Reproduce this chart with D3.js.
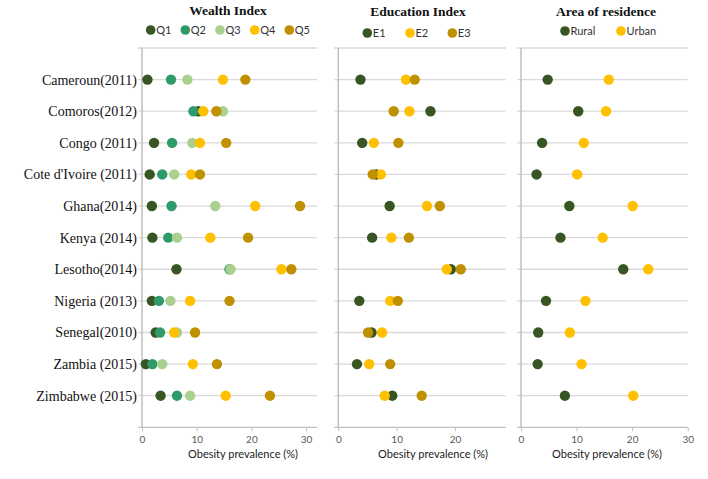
<!DOCTYPE html>
<html><head><meta charset="utf-8">
<script src="https://cdn.jsdelivr.net/npm/d3@7"></script>
<style>
html,body{margin:0;padding:0;background:#fff;}
svg{display:block;}
</style></head>
<body>
<svg id="chart" width="708" height="479"></svg>
<script>
// ---------- DATA ----------
const countries = ["Cameroun(2011)","Comoros(2012)","Congo (2011)","Cote d'Ivoire (2011)","Ghana(2014)","Kenya (2014)","Lesotho(2014)","Nigeria (2013)","Senegal(2010)","Zambia (2015)","Zimbabwe (2015)"];

const wealthKeys = ["Q1","Q2","Q3","Q4","Q5"];
const wealthQ1 = [1.0,10.3,2.2,1.4,1.8,1.9,6.3,1.8,2.5,0.7,3.4];
const wealthQ2 = [5.3,9.4,5.5,3.7,5.4,4.8,16.0,3.1,3.3,1.9,6.4];
const wealthQ3 = [8.3,14.8,9.2,5.9,13.4,6.4,16.2,5.2,6.4,3.7,8.8];
const wealthQ4 = [14.8,11.2,10.6,9.0,20.7,12.5,25.5,8.8,5.9,9.3,15.3];
const wealthQ5 = [18.9,13.6,15.4,10.6,28.9,19.4,27.3,16.0,9.7,13.7,23.4];

const eduKeys = ["E1","E2","E3"];
const eduE1 = [3.8,15.8,4.1,6.5,8.8,5.8,19.3,3.6,5.7,3.2,9.25];
const eduE2 = [11.6,12.2,6.1,7.3,15.2,9.1,18.6,8.9,7.5,5.3,7.95];
const eduE3 = [13.1,9.5,10.3,5.9,17.4,12.1,21.0,10.2,5.1,8.9,14.3];

const areaKeys = ["Rural","Urban"];
const areaRural = [4.8,10.3,3.8,2.8,8.7,7.1,18.4,4.5,3.1,3.0,7.9];
const areaUrban = [15.8,15.3,11.3,10.1,20.1,14.7,22.9,11.6,8.8,10.9,20.2];

const xTicks1 = [0,10,20,30];
const xTicks2 = [0,10,20];
const xTicks3 = [0,10,20,30];

const panelTitles = ["Wealth Index","Education Index","Area of residence"];
const axisTitle = "Obesity prevalence (%)";

// ---------- STYLE / LAYOUT ----------
const colors = {Q1:"#375623",Q2:"#2f9a6a",Q3:"#a9d08e",Q4:"#ffc000",Q5:"#bf9000",
                E1:"#375623",E2:"#ffc000",E3:"#bf9000",Rural:"#375623",Urban:"#ffc000"};

const panels = [
  {title:panelTitles[0], keys:wealthKeys, vals:[wealthQ1,wealthQ2,wealthQ3,wealthQ4,wealthQ5],
   x0:142, x1:317, max:32, ticks:xTicks1, titleX:228, titleY:15, legendY:30,
   legendX:[150.7,185.3,220,254.7,289.3], axisTitleX:243},
  {title:panelTitles[1], keys:eduKeys, vals:[eduE1,eduE2,eduE3],
   x0:338.3, x1:505.7, max:28.7, ticks:xTicks2, titleX:418, titleY:16, legendY:33,
   legendX:[367.3,410,452.3], axisTitleX:433},
  {title:panelTitles[2], keys:areaKeys, vals:[areaRural,areaUrban],
   x0:521, x1:687.7, max:30, ticks:xTicks3, titleX:606, titleY:16, legendY:31,
   legendX:[565,621], axisTitleX:607}
];

const yTop = 48, yBottom = 427.3;
const y = d3.scalePoint().domain(countries).range([yTop, yBottom]).padding(1);

const svg = d3.select("#chart");
const gridColor = "#d9d9d9";
const axisColor = "#bfbfbf";
const serif = "'Liberation Serif', 'DejaVu Serif', serif";
const sans = "Lato, 'Open Sans', 'Liberation Sans', sans-serif";

// country labels
svg.append("g").selectAll("text").data(countries).join("text")
  .attr("x", 137).attr("y", d => y(d)).attr("dy", "0.35em")
  .attr("text-anchor", "end")
  .attr("font-family", serif).attr("font-size", 14).attr("fill", "#111")
  .text(d => d);

panels.forEach(p => {
  const x = d3.scaleLinear().domain([0, p.max]).range([p.x0, p.x1]);
  const g = svg.append("g");

  // gridlines (top line + each row)
  const gridYs = [yTop].concat(countries.map(c => y(c)));
  g.selectAll("line.grid").data(gridYs).join("line")
    .attr("class","grid")
    .attr("x1", p.x0 - 4).attr("x2", p.x1)
    .attr("y1", d => d).attr("y2", d => d)
    .attr("stroke", gridColor).attr("stroke-width", 1.3);

  // bottom axis
  const xAxis = d3.axisBottom(x).tickValues(p.ticks).tickSize(4).tickPadding(5).tickFormat(d3.format("d"));
  const ax = g.append("g").attr("transform", `translate(0,${yBottom})`).call(xAxis);
  ax.select(".domain").attr("stroke", axisColor).attr("stroke-width", 1.3)
    .attr("d", `M${p.x0 - 4},0H${p.x1}`);
  ax.selectAll(".tick line").attr("stroke", axisColor);
  ax.selectAll(".tick text").attr("font-family", sans).attr("font-size", 10).attr("fill", "#595959");

  // left axis line
  g.append("line").attr("x1", p.x0).attr("x2", p.x0).attr("y1", yTop).attr("y2", yBottom)
    .attr("stroke", axisColor).attr("stroke-width", 1.5);

  // axis title
  g.append("text").attr("x", p.axisTitleX).attr("y", 457.5).attr("text-anchor","middle")
    .attr("font-family", sans).attr("font-size", 11).attr("fill", "#222").text(axisTitle);

  // panel title
  g.append("text").attr("x", p.titleX).attr("y", p.titleY).attr("text-anchor","middle")
    .attr("font-family", serif).attr("font-weight","bold").attr("font-size", 13.5).attr("fill","#111")
    .text(p.title);

  // legend
  const lg = g.append("g");
  p.keys.forEach((k, i) => {
    lg.append("circle").attr("cx", p.legendX[i]).attr("cy", p.legendY).attr("r", 4.8).attr("fill", colors[k]);
    lg.append("text").attr("x", p.legendX[i] + 5.5).attr("y", p.legendY).attr("dy","0.35em")
      .attr("font-family", sans).attr("font-size", 11).attr("fill", "#333").text(k);
  });

  // dots, series in order
  p.keys.forEach((k, i) => {
    g.append("g").selectAll("circle").data(p.vals[i]).join("circle")
      .attr("cx", d => x(d)).attr("cy", (d, j) => y(countries[j]))
      .attr("r", 5.2).attr("fill", colors[k]);
  });
});
</script>
</body></html>
